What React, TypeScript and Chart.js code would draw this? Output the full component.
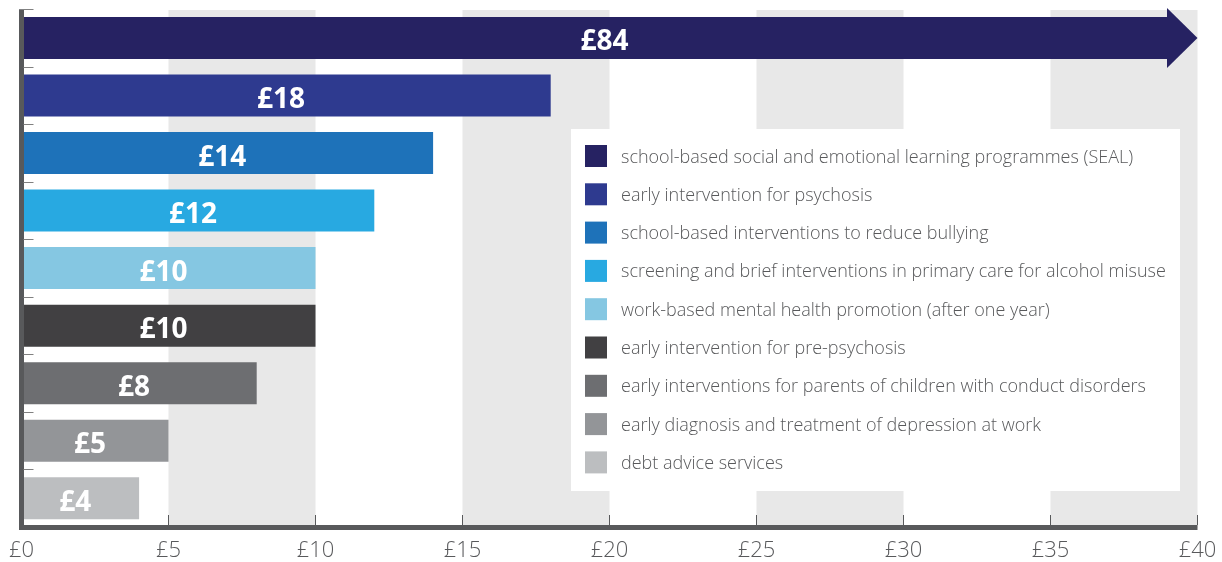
import React, { useEffect, useRef } from "react";
import { Chart, registerables } from "chart.js";

Chart.register(...registerables);

const categories = [
  "school-based social and emotional learning programmes (SEAL)",
  "early intervention for psychosis",
  "school-based interventions to reduce bullying",
  "screening and brief interventions in primary care for alcohol misuse",
  "work-based mental health promotion (after one year)",
  "early intervention for pre-psychosis",
  "early interventions for parents of children with conduct disorders",
  "early diagnosis and treatment of depression at work",
  "debt advice services",
];
const values = [84, 18, 14, 12, 10, 10, 8, 5, 4];
const colors = [
  "#262262",
  "#2e3a8f",
  "#1e72b9",
  "#28a9e1",
  "#85c7e2",
  "#414042",
  "#6d6e71",
  "#939598",
  "#bcbec0",
];
const axisMin = 0;
const axisMax = 40;
const tickStep = 5;
const shadedBands = [
  [5, 10],
  [15, 20],
  [25, 30],
  [35, 40],
];

const AXIS_COLOR = "#58595b";
const BAND_COLOR = "#e8e8e8";
const ARROW_LEN = 30;

const decorPlugin = {
  id: "decor",
  beforeDatasetsDraw(chart: any) {
    const { ctx, chartArea } = chart;
    const x = chart.scales.x;
    ctx.save();
    ctx.fillStyle = BAND_COLOR;
    shadedBands.forEach(([a, b]) => {
      const x0 = x.getPixelForValue(a);
      const x1 = x.getPixelForValue(b);
      ctx.fillRect(x0, chartArea.top + 0.8, x1 - x0, chartArea.bottom - chartArea.top);
    });
    ctx.restore();
  },
  afterDatasetsDraw(chart: any) {
    const { ctx, chartArea } = chart;
    const xs = chart.scales.x;
    const ys = chart.scales.y;
    const meta = chart.getDatasetMeta(0);
    ctx.save();
    // arrow heads for values beyond the axis
    meta.data.forEach((el: any, i: number) => {
      if (values[i] > axisMax) {
        const r = chartArea.right;
        const half = el.height / 2 + 9;
        ctx.fillStyle = colors[i];
        ctx.beginPath();
        ctx.moveTo(r - ARROW_LEN - 0.5, el.y - half);
        ctx.lineTo(r, el.y);
        ctx.lineTo(r - ARROW_LEN - 0.5, el.y + half);
        ctx.closePath();
        ctx.fill();
      }
    });
    // value labels
    ctx.fillStyle = "#ffffff";
    ctx.font = 'bold 28px "Open Sans"';
    ctx.textAlign = "center";
    ctx.textBaseline = "alphabetic";
    meta.data.forEach((el: any, i: number) => {
      const end = Math.min(el.x, chartArea.right);
      const cx = (el.base + end) / 2 - 5;
      ctx.fillText("£" + values[i], cx, el.y + 12.5);
    });
    // axis lines
    ctx.strokeStyle = AXIS_COLOR;
    ctx.lineWidth = 5;
    ctx.beginPath();
    ctx.moveTo(chartArea.left, chartArea.top);
    ctx.lineTo(chartArea.left, chartArea.bottom + 3);
    ctx.moveTo(chartArea.left - 2.5, chartArea.bottom + 0.5);
    ctx.lineTo(chartArea.right, chartArea.bottom + 0.5);
    ctx.stroke();
    // x tick marks (inward)
    ctx.lineWidth = 1;
    for (let v = axisMin + tickStep; v <= axisMax; v += tickStep) {
      const px = Math.round(xs.getPixelForValue(v)) - 0.5;
      ctx.beginPath();
      ctx.moveTo(px, chartArea.bottom - 12);
      ctx.lineTo(px, chartArea.bottom - 2);
      ctx.stroke();
    }
    // y tick marks at category boundaries
    ctx.strokeStyle = "#808080";
    const band = ys.getPixelForValue(1) - ys.getPixelForValue(0);
    for (let i = 0; i < categories.length; i++) {
      const py = Math.round(ys.getPixelForValue(i) - band / 2) + 0.5;
      ctx.beginPath();
      ctx.moveTo(chartArea.left + 2, py);
      ctx.lineTo(chartArea.left + 12, py);
      ctx.stroke();
    }
    // legend box
    const bx = 571, by = 129, bw = 609, bh = 362;
    ctx.fillStyle = "#ffffff";
    ctx.fillRect(bx, by, bw, bh);
    ctx.font = '300 18px "Open Sans"';
    ctx.textAlign = "left";
    ctx.textBaseline = "alphabetic";
    categories.forEach((c, i) => {
      const cy = 156 + i * 38.3;
      ctx.fillStyle = colors[i];
      ctx.fillRect(585, cy - 11, 22, 22);
      ctx.fillStyle = AXIS_COLOR;
      ctx.fillText(c, 621, cy + 6.5);
    });
    ctx.restore();
  },
};

export default function App() {
  const ref = useRef<HTMLCanvasElement | null>(null);
  useEffect(() => {
    if (!ref.current) return;
    const chart = new Chart(ref.current, {
      type: "bar",
      data: {
        labels: categories,
        datasets: [
          {
            data: values,
            backgroundColor: colors,
            borderWidth: 0,
            barPercentage: 0.73,
            categoryPercentage: 1,
            clip: { left: 0, top: false, right: -ARROW_LEN, bottom: 0 } as any,
          },
        ],
      },
      options: {
        indexAxis: "y",
        animation: false,
        responsive: false,
        events: [],
        layout: { padding: { left: 21.5, right: 24.5, top: 9.2, bottom: 0 } },
        plugins: { legend: { display: false }, tooltip: { enabled: false } },
        scales: {
          x: {
            min: axisMin,
            max: axisMax,
            border: { display: false },
            grid: { display: false, drawTicks: false },
            afterFit: (s: any) => {
              s.height = 35;
              s.paddingLeft = 0;
              s.paddingRight = 0;
            },
            ticks: {
              stepSize: tickStep,
              padding: 13,
              color: AXIS_COLOR,
              font: { family: "Open Sans", size: 22, weight: "300", lineHeight: 1 },
              callback: (v: any) => "£" + v,
            },
          },
          y: {
            display: false,
            grid: { offset: true },
          },
        },
      },
      plugins: [decorPlugin],
    });
    return () => chart.destroy();
  }, []);
  return (
    <div style={{ position: "fixed", left: 0, top: 0, width: 1222, height: 562, background: "#fff" }}>
      <canvas ref={ref} width={1222} height={562} style={{ display: "block" }} />
    </div>
  );
}
